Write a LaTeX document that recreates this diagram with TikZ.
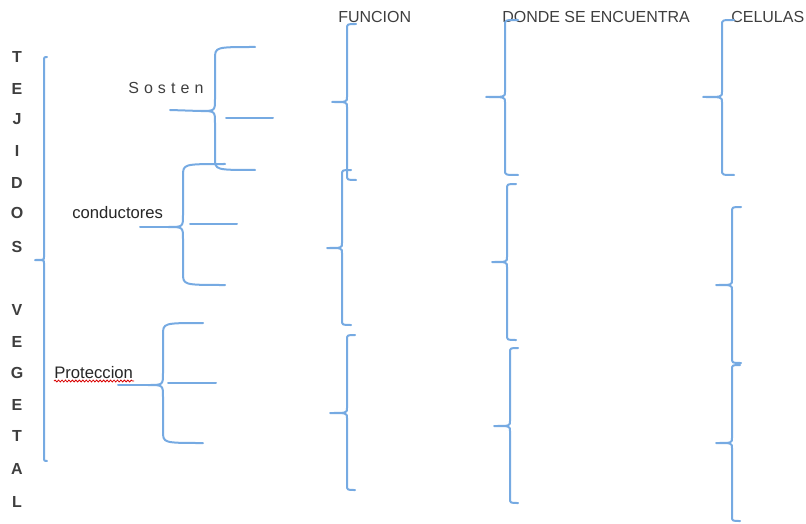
\documentclass[tikz,border=0pt]{standalone}
\usepackage{fontspec}
\setmainfont{Liberation Sans}
\usetikzlibrary{decorations.pathmorphing}
\definecolor{bracecol}{RGB}{118,170,226}
\definecolor{txtcol}{RGB}{62,62,62}
\newcommand\cbrace[7]{% vx, top, mid, bottom, hook x, tip x, radius
  \draw[brace] (#5,#2) .. controls (#1,#2) .. (#1,#2+#7) -- (#1,#3-#7)
    .. controls (#1,#3) .. (#6,#3) .. controls (#1,#3) .. (#1,#3+#7)
    -- (#1,#4-#7) .. controls (#1,#4) .. (#5,#4);}
\tikzset{
  brace/.style={draw=bracecol, line width=1.5pt, line cap=round, line join=round},
  stem/.style={draw=bracecol, line width=1.5pt, line cap=round},
  letter/.style={text=txtcol, font=\fontsize{12}{14}\selectfont\bfseries, inner sep=0pt},
  head/.style={text=txtcol, font=\fontsize{12}{14}\selectfont, inner sep=0pt, anchor=west},
  label/.style={text=black!85, font=\fontsize{12.5}{14}\selectfont, inner sep=0pt, anchor=west},
}
\begin{document}
\begin{tikzpicture}[x=0.75pt,y=-0.75pt]
\useasboundingbox (0,0) rectangle (806,524);
% column headers
\node[head] (hf) at (338,17) {FUNCION};
\node[head] (hd) at (502,17) {DONDE SE ENCUENTRA};
\node[head] (hc) at (731,17) {CELULAS};
% vertical title
\foreach \l/\y [count=\i] in {T/57,E/89,J/119,I/151,D/183,O/213,S/247,V/310,E/342,G/373,E/405,T/436,A/469,L/502}
  \node[letter] (t\i) at (17,\y) {\l};
% main brace
\cbrace{44}{57}{260}{461}{47}{35}{3}
% Sosten
\node[label, text=txtcol, font=\fontsize{12}{14}\selectfont\addfontfeature{LetterSpace=4}] (sos) at (128,88) {S o s t e n};
\cbrace{215}{47}{111}{170}{255}{200}{12}
\draw[stem] (170,110) -- (200,111);
\draw[stem] (226,118) -- (273,118);
% conductores
\node[label] (con) at (72,213) {conductores};
\cbrace{183}{164}{227}{285}{225}{168}{12}
\draw[stem] (140,227) -- (168,227);
\draw[stem] (190,224) -- (237,224);
% Proteccion
\node[label] (pro) at (54,373) {Proteccion};
\draw[red!85!black, line width=0.6pt, decorate, decoration={snake, segment length=2.6pt, amplitude=0.7pt}] (54,381) -- (134,381);
\cbrace{163}{323}{385}{443}{203}{148}{12}
\draw[stem] (118,385) -- (148,385);
\draw[stem] (168,383) -- (216,383);
% FUNCION column
\cbrace{347}{24}{102}{180}{356}{332}{5}
\cbrace{342}{170}{248}{325}{351}{327}{5}
\cbrace{347}{335}{413}{490}{355}{330}{5}
% DONDE SE ENCUENTRA column
\cbrace{505}{20}{97}{175}{518}{486}{5}
\cbrace{507}{184}{262}{340}{516}{492}{5}
\cbrace{510}{348}{426}{503}{518}{494}{5}
% CELULAS column
\cbrace{722}{20}{97}{175}{734}{703}{5}
\cbrace{732}{207}{285}{363}{741}{716}{5}
\cbrace{732}{365}{443}{521}{740}{716}{5}
\end{tikzpicture}
\end{document}
